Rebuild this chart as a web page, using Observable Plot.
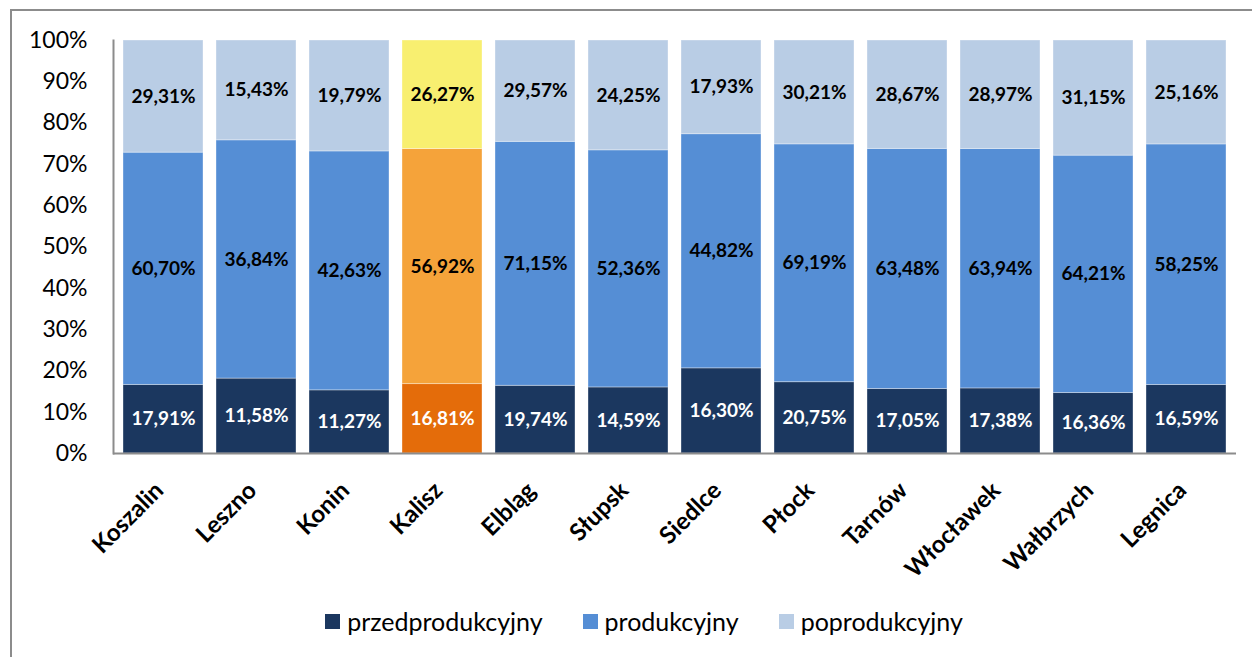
<!DOCTYPE html>
<html>
<head>
<meta charset="utf-8">
<script src="https://cdn.jsdelivr.net/npm/d3@7"></script>
<script src="https://cdn.jsdelivr.net/npm/@observablehq/plot@0.6"></script>
<style>
  html, body { margin: 0; padding: 0; background: #fff; }
  body { width: 1252px; height: 657px; position: relative; overflow: hidden; font-family: Lato, "Liberation Sans", sans-serif; }
  #frame { position: absolute; left: 10px; top: 9px; width: 1260px; height: 700px; border: 2px solid #8c8c8c; box-sizing: border-box; }
  #chart { position: absolute; left: 0; top: 0; }
  #legend { position: absolute; left: 0; top: 606px; width: 1252px; display: flex; justify-content: center; gap: 40px; font-size: 25px; line-height: 30px; color: #000; padding-left: 36px; box-sizing: border-box; }
  .item { display: flex; align-items: center; gap: 7px; }
  .sw { width: 15px; height: 15px; display: inline-block; }
</style>
</head>
<body>
<div id="frame"></div>
<div id="chart"></div>
<div id="legend"></div>
<script>
const cities = ["Koszalin","Leszno","Konin","Kalisz","Elbląg","Słupsk","Siedlce","Płock","Tarnów","Włocławek","Wałbrzych","Legnica"];
const series = ["przedprodukcyjny","produkcyjny","poprodukcyjny"];
const przed = [17.91,11.58,11.27,16.81,19.74,14.59,16.30,20.75,17.05,17.38,16.36,16.59];
const prod  = [60.70,36.84,42.63,56.92,71.15,52.36,44.82,69.19,63.48,63.94,64.21,58.25];
const popr  = [29.31,15.43,19.79,26.27,29.57,24.25,17.93,30.21,28.67,28.97,31.15,25.16];
const yTicks = [0,10,20,30,40,50,60,70,80,90,100];
const colors = ["#1b375f","#558ed5","#b9cde5"];
const highlightCity = "Kalisz";
const highlightColors = ["#e46c0a","#f5a33a","#f8ef70"];
const labelColors = ["#ffffff","#000000","#000000"];

const values = [przed, prod, popr];
const data = [];
series.forEach((s, si) => {
  cities.forEach((c, ci) => {
    data.push({city: c, series: s, si, value: values[si][ci],
      color: c === highlightCity ? highlightColors[si] : colors[si],
      label: values[si][ci].toFixed(2).replace(".", ",") + "%"});
  });
});

const chart = Plot.plot({
  width: 1252,
  height: 590,
  marginLeft: 113,
  marginRight: 16,
  marginTop: 40,
  marginBottom: 137,
  style: {fontFamily: "Lato, 'Liberation Sans', sans-serif", background: "transparent"},
  x: {domain: cities, paddingInner: 0.135, paddingOuter: 0.0675, label: null},
  y: {domain: [0, 1], label: null},
  color: {type: "identity"},
  marks: [
    Plot.barY(data, Plot.stackY({offset: "normalize", x: "city", y: "value", z: "series", fill: "color", stroke: "#ffffff", strokeOpacity: 0.35, strokeWidth: 1})),
    Plot.text(data, Plot.stackY({offset: "normalize", x: "city", y: "value", z: "series", text: "label",
      fill: d => labelColors[d.si], fontWeight: "bold", fontSize: 19})),
    Plot.axisY({ticks: yTicks.map(v => v / 100), tickFormat: d => Math.round(d * 100) + "%", tickSize: 0, tickPadding: 26, fontSize: 23, label: null, fill: "#000"}),
    Plot.axisX({tickRotate: -45, tickSize: 0, tickPadding: 33, dx: -4, fontSize: 24, fontWeight: "bold", label: null, fill: "#000"}),
    Plot.ruleY([0], {stroke: "#8c8c8c", strokeWidth: 2}),
    Plot.frame({anchor: "left", stroke: "#8c8c8c", strokeWidth: 2})
  ]
});
document.getElementById("chart").appendChild(chart);

const legend = document.getElementById("legend");
series.forEach((s, i) => {
  const item = document.createElement("div");
  item.className = "item";
  const sw = document.createElement("span");
  sw.className = "sw";
  sw.style.background = colors[i];
  const t = document.createElement("span");
  t.textContent = s;
  item.appendChild(sw);
  item.appendChild(t);
  legend.appendChild(item);
});
</script>
</body>
</html>
